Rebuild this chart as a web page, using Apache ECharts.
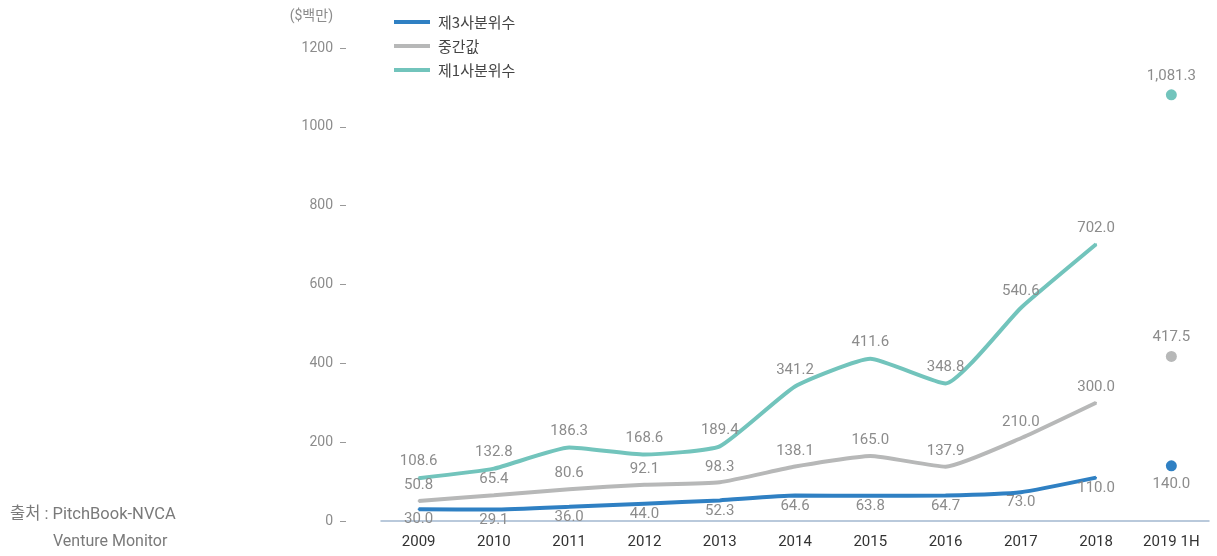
<!DOCTYPE html>
<html>
<head>
<meta charset="utf-8">
<script src="https://cdn.jsdelivr.net/npm/echarts@6/dist/echarts.min.js"></script>
<style>
  html, body { margin: 0; padding: 0; background: #fff; }
  #chart { width: 1217px; height: 556px; }
</style>
</head>
<body>
<div id="chart"></div>
<script>
// 연도 (마지막은 2019 상반기, 선으로 잇지 않고 점만 표시)
const years = ['2009', '2010', '2011', '2012', '2013', '2014', '2015', '2016', '2017', '2018', '2019 1H']
const q3 = [30.0, 29.1, 36.0, 44.0, 52.3, 64.6, 63.8, 64.7, 73.0, 110.0]
const median = [50.8, 65.4, 80.6, 92.1, 98.3, 138.1, 165.0, 137.9, 210.0, 300.0]
const q1 = [108.6, 132.8, 186.3, 168.6, 189.4, 341.2, 411.6, 348.8, 540.6, 702.0]
const h1_2019 = { q3: 140.0, median: 417.5, q1: 1081.3 }
const yTicks = { min: 0, max: 1200, interval: 200 }

const blue = '#2f80c3'
const grey = '#b7b8b8'
const teal = '#72c4bc'
const font = 'Roboto, "Noto Sans CJK KR", sans-serif'

const fmt = v => Number(v).toLocaleString('en-US', { minimumFractionDigits: 1, maximumFractionDigits: 1 })

// 2019 1H 은 별도 점으로
const lastOnly = v => years.map((_, i) => (i === years.length - 1 ? v : '-'))

const labelStyle = (pos, dist) => ({
  show: true,
  position: pos,
  distance: dist,
  color: '#8c8c8c',
  fontSize: 15,
  fontFamily: font,
  formatter: p => fmt(p.value)
})

const lineSeries = (name, data, color, pos, dist) => ({
  name: name,
  type: 'line',
  data: data,
  smooth: 0.15,
  symbol: 'circle',
  symbolSize: 2,
  showSymbol: true,
  lineStyle: { color: color, width: 4 },
  itemStyle: { color: color },
  label: labelStyle(pos, dist),
  z: 3
})

const dotSeries = (name, v, color, pos, dist) => ({
  name: name,
  type: 'scatter',
  data: lastOnly(v),
  symbolSize: 11,
  itemStyle: { color: color, opacity: 1 },
  label: labelStyle(pos, dist),
  z: 4
})

const chart = echarts.init(document.getElementById('chart'))
chart.setOption({
  animation: false,
  textStyle: { fontFamily: font },
  grid: { left: 381, right: 8, top: 48, bottom: 35 },
  legend: {
    orient: 'vertical',
    left: 389,
    top: 9,
    itemWidth: 36,
    itemHeight: 4,
    itemGap: 8,
    icon: 'rect',
    data: ['제3사분위수', '중간값', '제1사분위수'],
    textStyle: { color: '#444', fontSize: 15, lineHeight: 16, fontFamily: '"Noto Sans CJK KR", sans-serif', padding: [0, 0, 0, 3] }
  },
  xAxis: {
    type: 'category',
    data: years,
    axisTick: { show: false },
    axisLine: { lineStyle: { color: '#a3b8cf', width: 1.5 } },
    axisLabel: { color: '#333', fontSize: 15, margin: 14, interval: 0 }
  },
  yAxis: {
    type: 'value',
    min: yTicks.min,
    max: yTicks.max,
    interval: yTicks.interval,
    offset: 35,
    splitLine: { show: false },
    axisLine: { show: false },
    axisTick: { show: true, length: 6, lineStyle: { color: '#999' } },
    axisLabel: { color: '#8c8c8c', fontSize: 14, margin: 13, formatter: v => String(v) }
  },
  graphic: [
    { type: 'text', right: 1217 - 333, top: 10, style: { text: '($백만)', fill: '#8c8c8c', fontSize: 14, fontFamily: font } },
    { type: 'text', left: 10, top: 507, style: { text: '출처 : PitchBook-NVCA', fill: '#7a7a7a', fontSize: 16.5, fontFamily: font } },
    { type: 'text', left: 53, top: 534, style: { text: 'Venture Monitor', fill: '#7a7a7a', fontSize: 16, fontFamily: font } }
  ],
  series: [
    lineSeries('제3사분위수', q3, blue, 'bottom', 2),
    lineSeries('중간값', median, grey, 'top', 7),
    lineSeries('제1사분위수', q1, teal, 'top', 8),
    dotSeries('q3-2019', h1_2019.q3, blue, 'bottom', 5),
    dotSeries('median-2019', h1_2019.median, grey, 'top', 6),
    dotSeries('q1-2019', h1_2019.q1, teal, 'top', 6)
  ]
})
</script>
</body>
</html>
